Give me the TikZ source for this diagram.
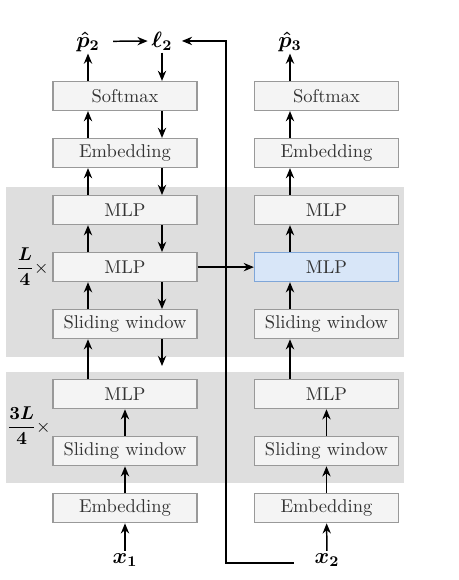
\documentclass[tikz,border=0pt]{standalone}
\usepackage{amsmath,amssymb,bm}
\usepackage{tikz}
\usetikzlibrary{positioning,arrows.meta}
\definecolor{boxfill}{HTML}{F4F4F4}
\definecolor{boxline}{HTML}{999999}
\definecolor{regfill}{HTML}{DEDEDE}
\definecolor{hlfill}{HTML}{D8E6F8}
\definecolor{hlline}{HTML}{7FA6D8}
\tikzset{
  block/.style={draw=boxline, fill=boxfill, line width=0.6pt, minimum width=77.8pt,
    minimum height=15.7pt, inner sep=0pt, text=black!80},
  hlblock/.style={block, draw=hlline, fill=hlfill},
  lbl/.style={inner sep=1pt, font=\large},
  flow/.style={->, line width=0.8pt},
}

\begin{document}
\begin{tikzpicture}[x=0.54pt, y=-0.54pt, node distance=30.8pt, on grid,
    >={Stealth[length=5.5pt,width=4.5pt]}]
  \useasboundingbox (0,0) rectangle (459,580);
  % shaded layer groups
  \fill[regfill] (6,187) rectangle (404,357);
  \fill[regfill] (6,372) rectangle (404,483);

  % left column
  \node[block] (sm2) at (125,96) {Softmax};
  \node[block] (embA2) [below=of sm2] {Embedding};
  \node[block] (mlpA2) [below=of embA2] {MLP};
  \node[block] (mlpB2) [below=of mlpA2] {MLP};
  \node[block] (swB2) [below=of mlpB2] {Sliding window};
  \node[block] (mlpC2) [below=37.8pt of swB2] {MLP};
  \node[block] (swC2) [below=of mlpC2] {Sliding window};
  \node[block] (embC2) [below=of swC2] {Embedding};

  % right column
  \node[block] (sm3) [right=108.8pt of sm2] {Softmax};
  \node[block] (embA3) [below=of sm3] {Embedding};
  \node[block] (mlpA3) [below=of embA3] {MLP};
  \node[hlblock] (mlpB3) [below=of mlpA3] {MLP};
  \node[block] (swB3) [below=of mlpB3] {Sliding window};
  \node[block] (mlpC3) [below=37.8pt of swB3] {MLP};
  \node[block] (swC3) [below=of mlpC3] {Sliding window};
  \node[block] (embC3) [below=of swC3] {Embedding};

  % inputs, outputs and loss
  \node[lbl, anchor=base] (p2) at (88,47) {$\bm{\hat{p}_2}$};
  \node[lbl, anchor=base] (l2) at (162,47) {$\bm{\ell_2}$};
  \node[lbl, anchor=base] (p3) at (290,47) {$\bm{\hat{p}_3}$};
  \node[lbl, anchor=base] (x1) at (125,563) {$\bm{x_1}$};
  \node[lbl, anchor=base] (x2) at (327,563) {$\bm{x_2}$};
  \node[anchor=east, inner sep=0pt] (repB) at (49,267) {$\dfrac{\bm{L}}{\bm{4}}\times$};
  \node[anchor=east, inner sep=0pt] (repC) at (51,426) {$\dfrac{\bm{3L}}{\bm{4}}\times$};

  \coordinate (gapdown) at (162,366);
  \coordinate (turn) at (226,563);

  % forward pass, left
  \draw[flow] (x1) -- (embC2);
  \draw[flow] (embC2) -- (swC2);
  \draw[flow] (swC2) -- (mlpC2);
  \draw[flow] (mlpC2.north -| p2) -- (swB2.south -| p2);
  \draw[flow] (swB2.north -| p2) -- (mlpB2.south -| p2);
  \draw[flow] (mlpB2.north -| p2) -- (mlpA2.south -| p2);
  \draw[flow] (mlpA2.north -| p2) -- (embA2.south -| p2);
  \draw[flow] (embA2.north -| p2) -- (sm2.south -| p2);
  \draw[flow] (sm2.north -| p2) -- (p2);
  % backward pass, left
  \draw[flow, shorten <=6pt, shorten >=1pt] (p2) -- (l2);
  \draw[flow] (l2) -- (sm2.north -| l2);
  \draw[flow] (sm2.south -| l2) -- (embA2.north -| l2);
  \draw[flow] (embA2.south -| l2) -- (mlpA2.north -| l2);
  \draw[flow] (mlpA2.south -| l2) -- (mlpB2.north -| l2);
  \draw[flow] (mlpB2.south -| l2) -- (swB2.north -| l2);
  \draw[flow] (swB2.south -| l2) -- (gapdown);

  % forward pass, right
  \draw[flow] (x2) -- (embC3);
  \draw[flow] (embC3) -- (swC3);
  \draw[flow] (swC3) -- (mlpC3);
  \draw[flow] (mlpC3.north -| p3) -- (swB3.south -| p3);
  \draw[flow] (swB3.north -| p3) -- (mlpB3.south -| p3);
  \draw[flow] (mlpB3.north -| p3) -- (mlpA3.south -| p3);
  \draw[flow] (mlpA3.north -| p3) -- (embA3.south -| p3);
  \draw[flow] (embA3.north -| p3) -- (sm3.south -| p3);
  \draw[flow] (sm3.north -| p3) -- (p3);

  % cross connections
  \draw[flow] (mlpB2) -- (mlpB3);
  \draw[flow, shorten <=10pt, shorten >=4pt] (x2.base west) -- (turn) |- (l2.east);
\end{tikzpicture}
\end{document}
